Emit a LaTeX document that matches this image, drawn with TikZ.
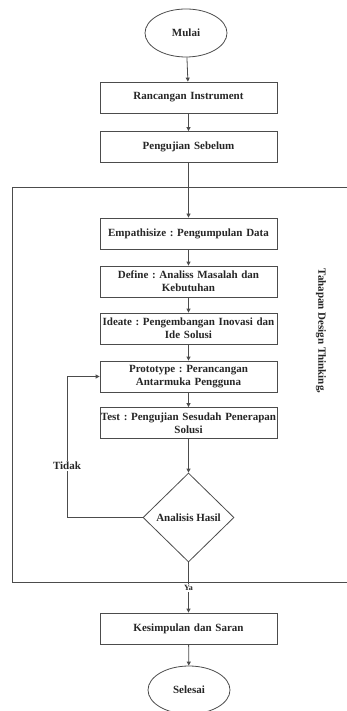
\documentclass[tikz,border=0pt]{standalone}
\usepackage{fontspec}
\setmainfont{Liberation Serif}
\usetikzlibrary{arrows.meta, shapes.geometric}

\begin{document}
\begin{tikzpicture}[x=1pt, y=-1pt, gray!60!black, line width=0.8pt,
  every node/.style={text=black!85, font=\bfseries\frenchspacing\fontsize{11}{13}\selectfont},
  proses/.style={draw, rectangle, minimum width=177pt, minimum height=31pt,
    text width=177pt, align=center, inner xsep=0pt, inner ysep=2pt},
  terminal/.style={draw, ellipse, minimum width=82pt, minimum height=48pt, inner sep=0pt},
  keputusan/.style={draw, diamond, minimum width=91pt, minimum height=89pt, inner sep=0pt},
  lbl/.style={fill=white, inner sep=1pt},
  arr/.style={-{Triangle[length=4pt, width=4pt]}}]
  \useasboundingbox (0,0) rectangle (347,711);
  % tahapan design thinking
  \draw (347,187) -| (12,582) -- (347,582);
  \node[rotate=-90] (tahapan) at (321,331) {Tahapan Design Thinking,};

  \node[terminal] (mulai) at (186,33) {Mulai};
  \node[proses] (rancangan) at (188.5,97.5) {Rancangan Instrument};
  \node[proses] (sebelum) at (188.5,147) {Pengujian Sebelum};
  \node[proses] (empathize) at (188.5,233.5) {Empathisize : Pengumpulan Data};
  \node[proses] (define) at (188.5,281.5) {Define : Analiss Masalah dan\\ Kebutuhan};
  \node[proses] (ideate) at (188.5,328.5) {Ideate : Pengembangan Inovasi dan\\ Ide Solusi};
  \node[proses] (prototype) at (188.5,376.5) {Prototype : Perancangan\\ Antarmuka Pengguna};
  \node[proses] (test) at (188.5,423) {Test : Pengujian Sesudah Penerapan\\ Solusi};
  \node[keputusan] (analisis) at (188.5,517.5) {Analisis Hasil};
  \node[proses] (kesimpulan) at (188.5,628.5) {Kesimpulan dan Saran};
  \node[terminal] (selesai) at (189,690) {Selesai};

  \node[lbl] (tidak) at (67,466) {Tidak};
  \node[lbl, font=\bfseries\fontsize{8}{9}\selectfont] (ya) at (188.5,588) {Ya};

  \draw[arr] (mulai) -- (rancangan);
  \draw[arr] (rancangan) -- (sebelum);
  \draw[arr] (sebelum) -- (empathize);
  \draw[arr] (empathize) -- (define);
  \draw[arr] (define) -- (ideate);
  \draw[arr] (ideate) -- (prototype);
  \draw[arr] (prototype) -- (test);
  \draw[arr] (test) -- (analisis);
  \draw (analisis.west) -| (tidak.south);
  \draw[arr] (tidak.north) |- (prototype.west);
  \draw (analisis.south) -- (ya);
  \draw[arr] (ya) -- (kesimpulan);
  \draw[arr] (kesimpulan) -- (selesai);
\end{tikzpicture}
\end{document}
